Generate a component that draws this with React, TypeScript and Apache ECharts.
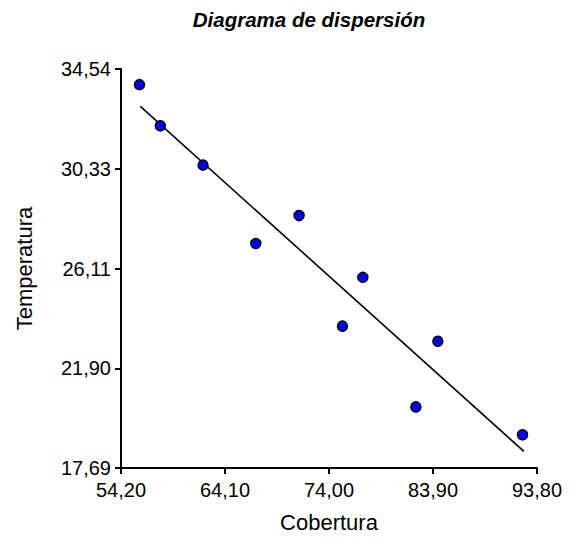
import React, { useEffect, useRef } from "react";
import * as echarts from "echarts";

const titleText = "Diagrama de dispersión";
const xName = "Cobertura";
const yName = "Temperatura";

const coberturaValues = [55.96, 57.94, 62.01, 67.03, 71.15, 77.22, 75.28, 84.36, 82.27, 92.42];
const temperaturaValues = [33.88, 32.14, 30.48, 27.17, 28.35, 25.74, 23.68, 23.04, 20.27, 19.09];

const fitX = [56.04, 92.55];
const fitY = [32.96, 18.39];

const xTicks = [54.2, 64.1, 74.0, 83.9, 93.8];
const yTicks = [17.69, 21.9, 26.11, 30.33, 34.54];

const FONT = "'Liberation Sans', Arial, sans-serif";

const fmt = (v: number) => v.toFixed(2).replace(".", ",");

export default function App() {
  const ref = useRef<HTMLDivElement>(null);
  useEffect(() => {
    if (!ref.current) return;
    const chart = echarts.init(ref.current, null, { renderer: "svg" });
    const scatterData = coberturaValues.map((x, i) => [x, temperaturaValues[i]]);
    const lineData = fitX.map((x, i) => [x, fitY[i]]);
    chart.setOption({
      animation: false,
      backgroundColor: "#ffffff",
      title: {
        text: titleText,
        left: 304,
        top: 4,
        textAlign: "center",
        textStyle: {
          fontFamily: FONT,
          fontSize: 20.5,
          fontWeight: "bold",
          fontStyle: "italic",
          color: "#000",
        },
      },
      grid: { left: 121, right: 34, top: 69, bottom: 68 },
      xAxis: {
        type: "value",
        min: xTicks[0],
        max: xTicks[xTicks.length - 1],
        name: xName,
        nameLocation: "middle",
        nameGap: 43,
        nameTextStyle: { fontFamily: FONT, fontSize: 22, color: "#000" },
        axisLine: { show: true, onZero: false, lineStyle: { color: "#000", width: 2 } },
        axisTick: { show: true, inside: false, length: 6, customValues: xTicks, lineStyle: { color: "#000", width: 2 } },
        axisLabel: {
          customValues: xTicks,
          formatter: (v: number) => fmt(v),
          fontFamily: FONT,
          fontSize: 20,
          color: "#000",
          margin: 12,
          hideOverlap: false,
        },
        splitLine: { show: false },
      },
      yAxis: {
        type: "value",
        min: yTicks[0],
        max: yTicks[yTicks.length - 1],
        name: yName,
        nameLocation: "middle",
        nameGap: 86,
        nameTextStyle: { fontFamily: FONT, fontSize: 22, color: "#000" },
        axisLine: { show: true, onZero: false, lineStyle: { color: "#000", width: 2 } },
        axisTick: { show: true, inside: false, length: 6, customValues: yTicks, lineStyle: { color: "#000", width: 2 } },
        axisLabel: {
          customValues: yTicks,
          formatter: (v: number) => fmt(v),
          fontFamily: FONT,
          fontSize: 20,
          color: "#000",
          margin: 10,
          hideOverlap: false,
        },
        splitLine: { show: false },
      },
      series: [
        {
          type: "line",
          data: lineData,
          symbol: "none",
          lineStyle: { color: "#000", width: 1.6 },
          z: 1,
        },
        {
          type: "scatter",
          data: scatterData,
          symbol: "circle",
          symbolSize: 10,
          itemStyle: { color: "#0000ff", borderColor: "#000", borderWidth: 1.5, opacity: 1 },
          z: 2,
        },
      ],
    });
    return () => chart.dispose();
  }, []);
  return (
    <div
      ref={ref}
      style={{ position: "fixed", left: 0, top: 0, width: 571, height: 538, background: "#fff" }}
    />
  );
}
